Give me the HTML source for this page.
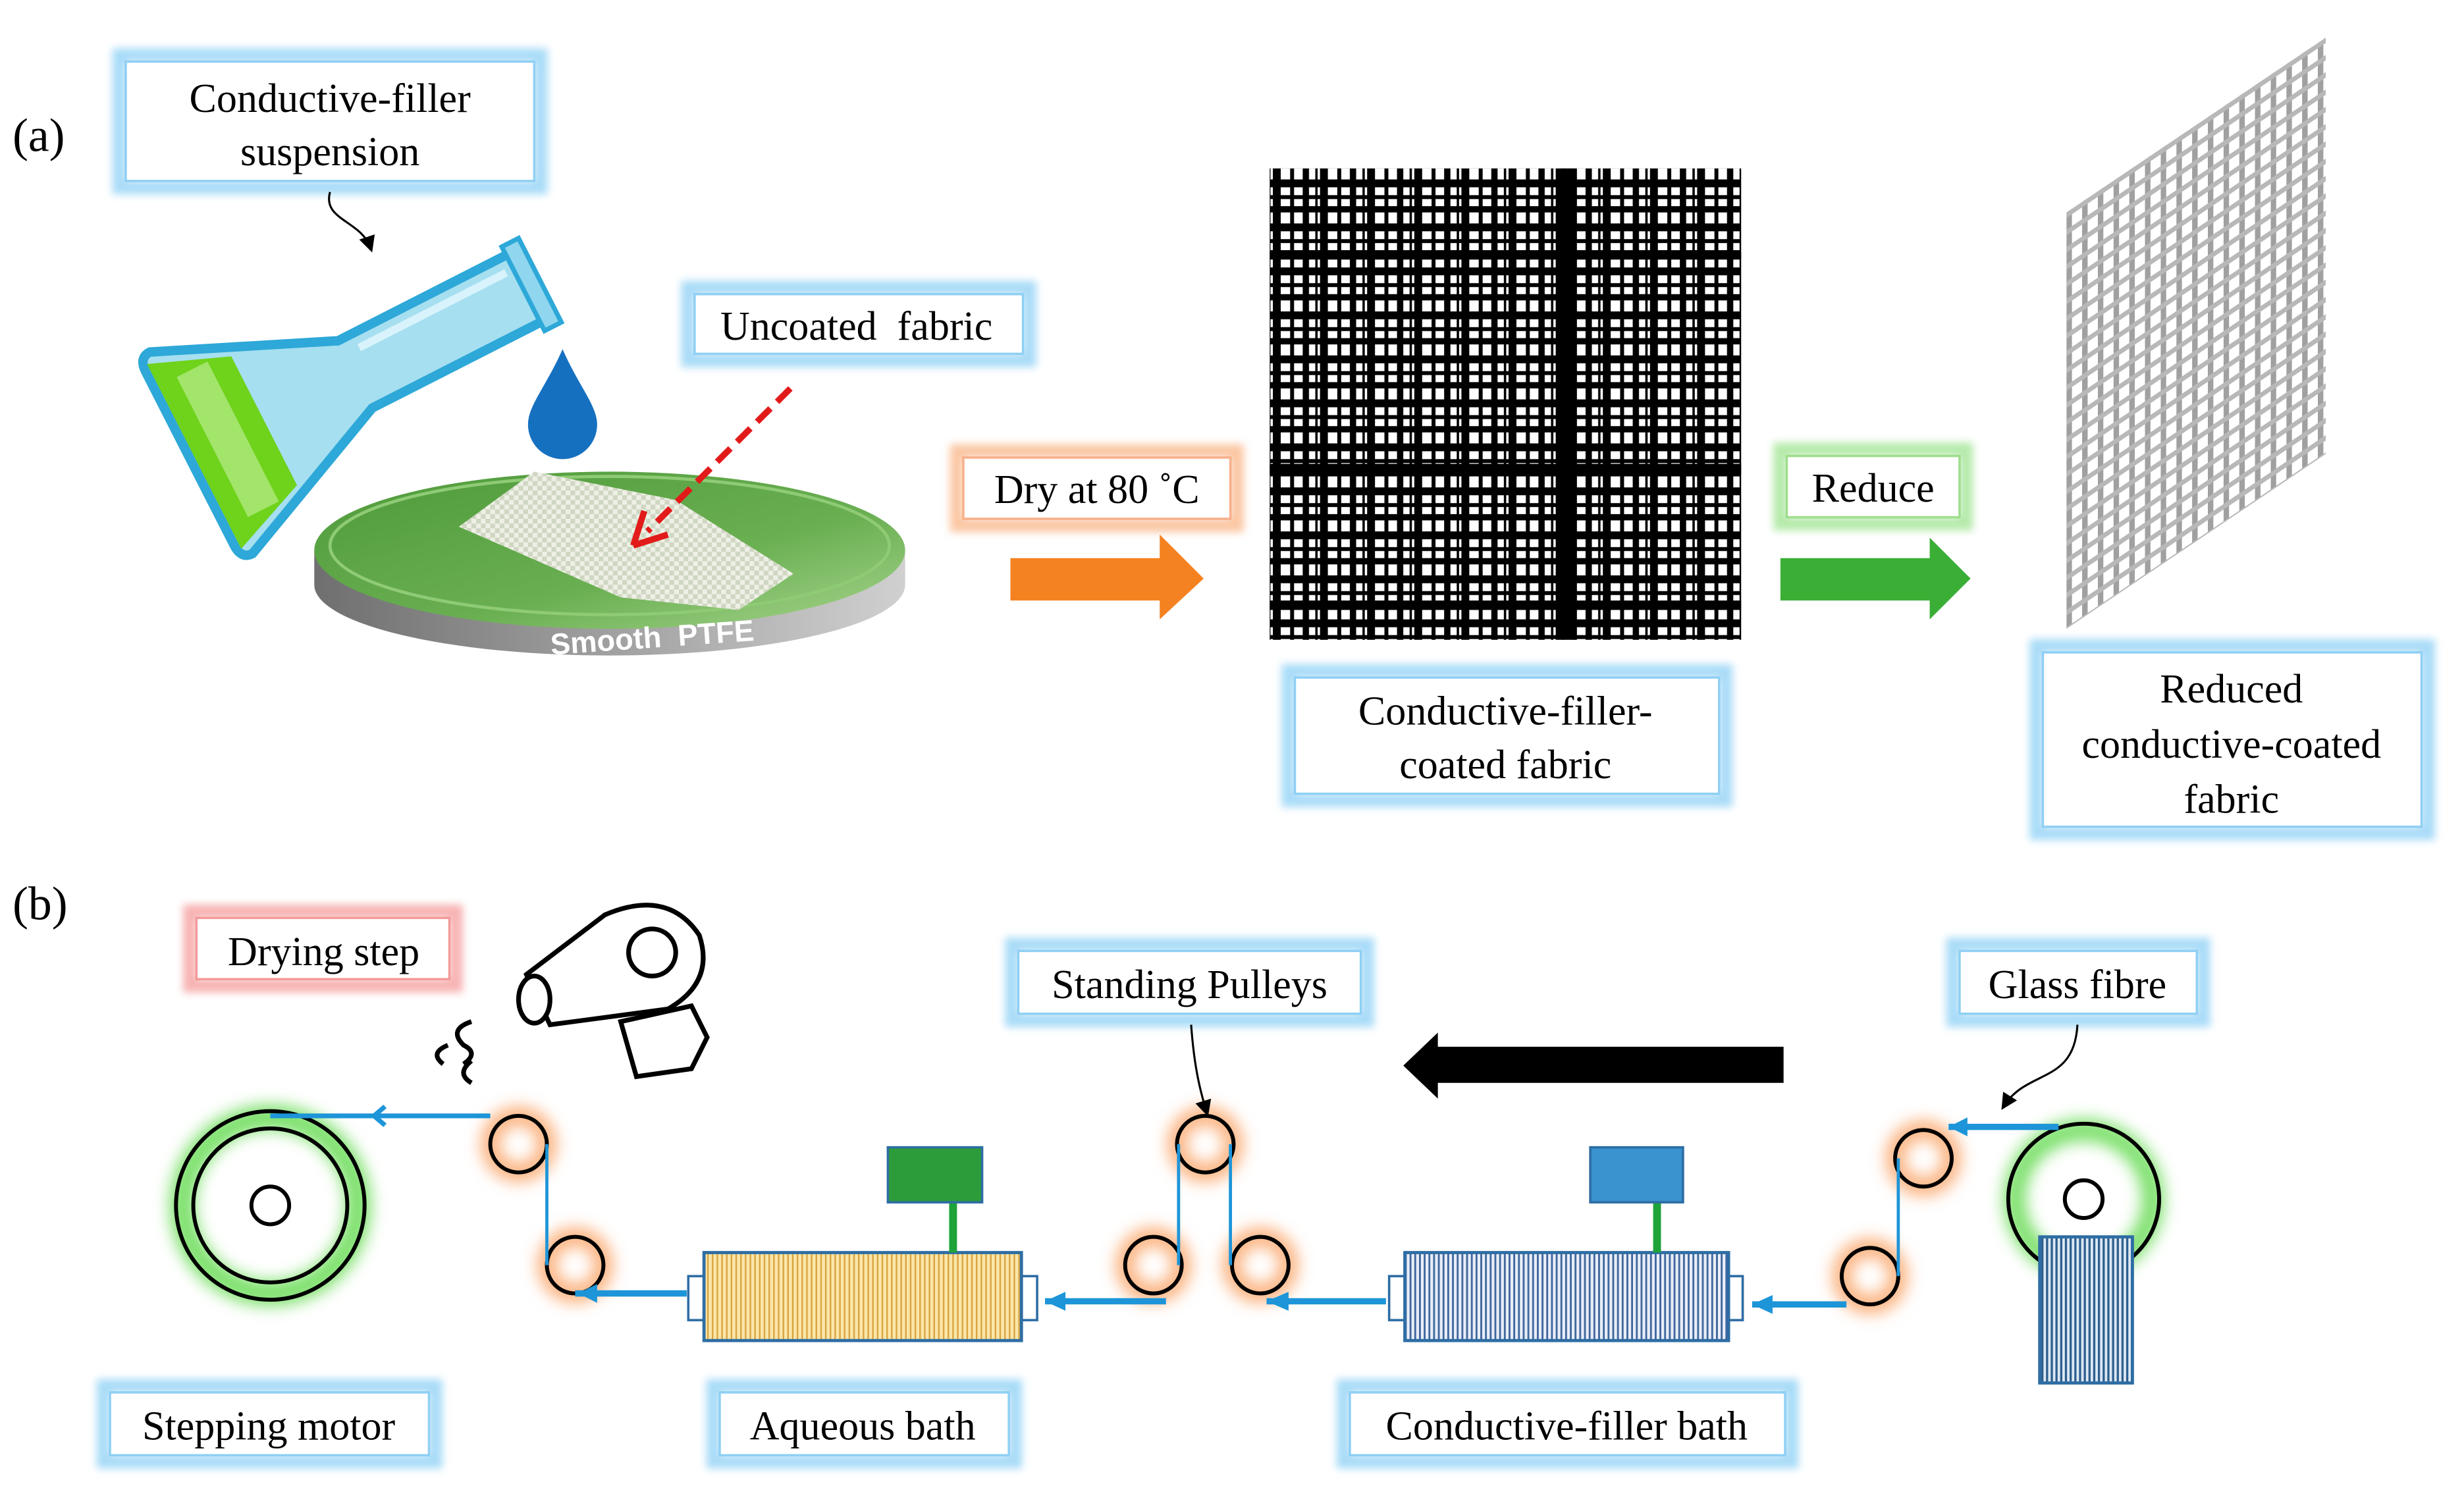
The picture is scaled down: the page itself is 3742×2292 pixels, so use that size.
<!DOCTYPE html>
<html><head><meta charset="utf-8"><style>
html,body{margin:0;padding:0;background:#fff;}
svg{display:block;}
</style></head><body>
<svg width="3742" height="2292" viewBox="0 0 1568 960" xmlns="http://www.w3.org/2000/svg" font-family="'Liberation Serif', serif">
<defs>
<filter id="bl" x="-20%" y="-20%" width="140%" height="140%"><feGaussianBlur stdDeviation="2.5"/></filter>
<filter id="bl6" x="-50%" y="-50%" width="200%" height="200%"><feGaussianBlur stdDeviation="5"/></filter>
<pattern id="fab" width="30" height="28" patternUnits="userSpaceOnUse">
<rect width="30" height="28" fill="#fff"/>
<rect x="0" y="0" width="5" height="28" fill="#000"/>
<rect x="11" y="0" width="2.5" height="28" fill="#000"/>
<rect x="19" y="0" width="4" height="28" fill="#000"/>
<rect x="27" y="0" width="1.5" height="28" fill="#000"/>
<rect x="0" y="2" width="30" height="5" fill="#000"/>
<rect x="0" y="12" width="30" height="2.5" fill="#000"/>
<rect x="0" y="19" width="30" height="4" fill="#000"/>
</pattern>
<pattern id="mesh" width="10" height="11" patternUnits="userSpaceOnUse">
<rect x="0" y="0" width="3.5" height="11" fill="#a0a0a0"/>
<rect x="0" y="0" width="10" height="3.5" fill="#b8b8b8"/>
</pattern>
<pattern id="yel" width="3" height="10" patternUnits="userSpaceOnUse">
<rect width="3" height="10" fill="#fbe6a8"/><rect width="1" height="10" fill="#d9a441"/>
</pattern>
<pattern id="blu" width="3" height="10" patternUnits="userSpaceOnUse">
<rect width="3" height="10" fill="#e8eef7"/><rect width="1.2" height="10" fill="#41679e"/>
</pattern>
<pattern id="blu2" width="3" height="10" patternUnits="userSpaceOnUse">
<rect width="3" height="10" fill="#dce8f3"/><rect width="1.4" height="10" fill="#2e5f8f"/>
</pattern>
<pattern id="fw" width="6" height="6" patternUnits="userSpaceOnUse">
<rect width="6" height="6" fill="#cfd6c2"/><rect width="3" height="3" fill="#eef0e6"/><rect x="3" y="3" width="3" height="3" fill="#eef0e6"/>
</pattern>
<linearGradient id="disk" x1="0" y1="0" x2="1" y2="1"><stop offset="0" stop-color="#4e9a3a"/><stop offset="0.6" stop-color="#6aaf52"/><stop offset="1" stop-color="#a8d68e"/></linearGradient>
<linearGradient id="side" x1="0" y1="0" x2="1" y2="0"><stop offset="0" stop-color="#6f6f6f"/><stop offset="0.5" stop-color="#a0a0a0"/><stop offset="1" stop-color="#d0d0d0"/></linearGradient>
<marker id="ah" markerWidth="8" markerHeight="8" refX="6" refY="4" orient="auto"><path d="M0,0 L8,4 L0,8 Z" fill="#000"/></marker>
</defs>

<!-- label boxes -->
<g fill="#fff">
<g stroke="#a9dcf8" stroke-width="9" filter="url(#bl)">
<rect x="76" y="35" width="268" height="84"/>
<rect x="438" y="183" width="217" height="46"/>
<rect x="820" y="427" width="278" height="82"/>
<rect x="1296" y="411" width="249" height="119"/>
<rect x="644" y="601" width="226" height="48"/>
<rect x="1243" y="601" width="159" height="48"/>
<rect x="66" y="882" width="211" height="48"/>
<rect x="454" y="882" width="192" height="48"/>
<rect x="855" y="882" width="285" height="48"/>
</g>
<rect x="609" y="287" width="178" height="47" stroke="#fbc7a4" stroke-width="9" filter="url(#bl)"/>
<rect x="1133" y="286" width="118" height="47" stroke="#b5eaaa" stroke-width="9" filter="url(#bl)"/>
<rect x="121" y="580" width="169" height="47" stroke="#f8b3b3" stroke-width="9" filter="url(#bl)"/>
</g>
<g fill="#fff" stroke="#8fd0f4" stroke-width="1.5">
<rect x="80" y="39" width="260" height="76"/>
<rect x="442" y="187" width="209" height="38"/>
<rect x="824" y="431" width="270" height="74"/>
<rect x="1300" y="415" width="241" height="111"/>
<rect x="648" y="605" width="218" height="40"/>
<rect x="1247" y="605" width="151" height="40"/>
<rect x="70" y="886" width="203" height="40"/>
<rect x="458" y="886" width="184" height="40"/>
<rect x="859" y="886" width="277" height="40"/>
<rect x="613" y="291" width="170" height="39" stroke="#f8b08a"/>
<rect x="1137" y="290" width="110" height="39" stroke="#9ede8d"/>
<rect x="125" y="584" width="161" height="39" stroke="#f49a9a"/>
</g>
<g font-size="26" text-anchor="middle" font-family="'Liberation Serif', serif" fill="#000">
<text x="210" y="71">Conductive-filler</text>
<text x="210" y="105">suspension</text>
<text x="545" y="216">Uncoated&#160; fabric</text>
<text x="698" y="320">Dry at 80 ˚C</text>
<text x="1192" y="319">Reduce</text>
<text x="958" y="461">Conductive-filler-</text>
<text x="958" y="495">coated fabric</text>
<text x="1420" y="447">Reduced</text>
<text x="1420" y="482">conductive-coated</text>
<text x="1420" y="517">fabric</text>
<text x="206" y="614">Drying step</text>
<text x="757" y="635">Standing Pulleys</text>
<text x="1322" y="635">Glass fibre</text>
<text x="171" y="916">Stepping motor</text>
<text x="549" y="916">Aqueous bath</text>
<text x="997" y="916">Conductive-filler bath</text>
<text x="8" y="96" font-size="30" text-anchor="start">(a)</text>
<text x="8" y="585" font-size="30" text-anchor="start">(b)</text>
</g>

<!-- callout -->
<path d="M210,122 C205,140 230,140 236,158" stroke="#000" stroke-width="1.3" fill="none" marker-end="url(#ah)"/>

<!-- disk -->
<path d="M200,350 L200,372 A188,45 0 0 0 576,372 L576,350 Z" fill="url(#side)"/>
<ellipse cx="388" cy="350" rx="188" ry="50" fill="url(#disk)"/>
<ellipse cx="388" cy="347" rx="178" ry="44" fill="none" stroke="#8fcb75" stroke-width="2"/>
<text x="415" y="412" font-family="'Liberation Sans', sans-serif" font-weight="bold" font-size="19" fill="#fff" text-anchor="middle" transform="rotate(-4 415 405)">Smooth&#160; PTFE</text>
<polygon points="292,335 340,300 430,318 505,365 470,388 395,380" fill="url(#fw)"/>
<!-- red dashed -->
<line x1="503" y1="247" x2="412" y2="338" stroke="#e31a1a" stroke-width="4" stroke-dasharray="12,6"/>
<path d="M403,347 L410,325 M403,347 L425,340" stroke="#e31a1a" stroke-width="4" fill="none"/>

<!-- flask -->
<g transform="translate(128,288) rotate(-27)">
<path d="M0,-72 L110,-24 L232,-24 L232,24 L110,24 L0,72 Q-8,72 -8,62 L-8,-62 Q-8,-72 0,-72 Z" fill="#a6dff0" stroke="#2da8d8" stroke-width="6"/>
<path d="M-5,-66 L45,-46 L45,46 L-5,66 Z" fill="#6fd21b"/>
<rect x="8" y="-50" width="22" height="100" fill="#b8ec8c" opacity="0.7"/>
<rect x="230" y="-30" width="12" height="60" fill="#8fd6ee" stroke="#2da8d8" stroke-width="3"/>
<line x1="120" y1="-14" x2="225" y2="-14" stroke="#d8f3fb" stroke-width="5"/>
</g>
<!-- drop -->
<path d="M358,222 C348,245 336,258 336,270 A22,22 0 0 0 380,270 C380,258 368,245 358,222 Z" fill="#1670c0"/>

<!-- orange arrow -->
<polygon points="643,355 738,355 738,340 766,368 738,394 738,382 643,382" fill="#f58220"/>
<!-- green arrow -->
<polygon points="1133,355 1228,355 1228,342 1254,368 1228,394 1228,382 1133,382" fill="#3aae35"/>

<!-- black fabric -->
<rect x="808" y="107" width="300" height="300" fill="url(#fab)"/>
<rect x="994" y="107" width="8" height="300" fill="#000"/>
<rect x="808" y="295" width="300" height="7" fill="#000"/>
<rect x="808" y="382" width="300" height="6" fill="#000"/>
<rect x="808" y="160" width="300" height="5" fill="#000"/>

<!-- mesh -->
<g transform="translate(1315,135) skewY(-34)">
<rect x="0" y="0" width="165" height="265" fill="url(#mesh)"/>
</g>

<!-- hair dryer -->
<g stroke="#000" stroke-width="3" fill="#fff">
<path d="M395,650 L405,685 L440,680 L450,660 L440,640 Z"/>
<path d="M335,620 L385,582 Q425,565 445,595 Q455,625 425,642 L350,652 Z"/>
<ellipse cx="340" cy="636" rx="10" ry="15"/>
<circle cx="415" cy="606" r="15"/>
<path d="M300,650 q-15,5 -5,15 q10,5 0,12 M285,665 q-12,5 -3,12 M300,675 q-10,8 0,14" fill="none"/>
</g>

<!-- big black arrow -->
<polygon points="1135,666 915,666 915,657 893,678 915,699 915,689 1135,689" fill="#000"/>

<!-- glows -->
<g filter="url(#bl6)" fill="none">
<circle cx="172" cy="767" r="56" stroke="#7be06a" stroke-width="16"/>
<circle cx="1326" cy="763" r="44" stroke="#7be06a" stroke-width="14"/>
<g stroke="#fbb07c" stroke-width="12">
<circle cx="330" cy="728" r="18"/><circle cx="366" cy="805" r="18"/>
<circle cx="734" cy="805" r="18"/><circle cx="767" cy="728" r="18"/>
<circle cx="802" cy="805" r="18"/><circle cx="1190" cy="812" r="18"/>
<circle cx="1224" cy="737" r="18"/>
</g>
</g>
<g fill="none" stroke="#000" stroke-width="2.5">
<circle cx="172" cy="767" r="60"/><circle cx="172" cy="767" r="49"/><circle cx="172" cy="767" r="12"/>
<circle cx="1326" cy="763" r="48"/><circle cx="1326" cy="763" r="12"/>
<circle cx="330" cy="728" r="18"/><circle cx="366" cy="805" r="18"/>
<circle cx="734" cy="805" r="18"/><circle cx="767" cy="728" r="18"/>
<circle cx="802" cy="805" r="18"/><circle cx="1190" cy="812" r="18"/>
<circle cx="1224" cy="737" r="18"/>
</g>

<!-- fibre path -->
<g stroke="#1d95d8" fill="none">
<line x1="172" y1="710" x2="312" y2="710" stroke-width="3"/>
<path d="M245,704 L238,710 L245,716" stroke-width="3"/>
<line x1="348" y1="728" x2="348" y2="805" stroke-width="2"/>
<line x1="366" y1="823" x2="437" y2="823" stroke-width="4"/>
<line x1="665" y1="828" x2="742" y2="828" stroke-width="4"/>
<line x1="750" y1="728" x2="750" y2="805" stroke-width="2"/>
<line x1="783" y1="728" x2="783" y2="805" stroke-width="2"/>
<line x1="806" y1="828" x2="882" y2="828" stroke-width="4"/>
<line x1="1115" y1="830" x2="1175" y2="830" stroke-width="4"/>
<line x1="1208" y1="737" x2="1208" y2="812" stroke-width="2"/>
<line x1="1240" y1="717" x2="1310" y2="717" stroke-width="4"/>
</g>
<g fill="#1d95d8">
<polygon points="380,817 368,823 380,829"/><polygon points="678,822 665,828 678,834"/>
<polygon points="820,822 806,828 820,834"/><polygon points="1128,824 1115,830 1128,836"/>
<polygon points="1252,711 1240,717 1252,723"/>
</g>

<!-- baths -->
<rect x="438" y="812" width="10" height="28" fill="#fff" stroke="#2e6da4" stroke-width="1.5"/>
<rect x="650" y="812" width="10" height="28" fill="#fff" stroke="#2e6da4" stroke-width="1.5"/>
<rect x="448" y="797" width="202" height="56" fill="url(#yel)" stroke="#2e6da4" stroke-width="2"/>
<rect x="604" y="765" width="5" height="32" fill="#1ea33a"/>
<rect x="565" y="730" width="60" height="35" fill="#2c9c3a" stroke="#2e6da4" stroke-width="1.5"/>
<rect x="884" y="812" width="10" height="28" fill="#fff" stroke="#2e6da4" stroke-width="1.5"/>
<rect x="1099" y="812" width="10" height="28" fill="#fff" stroke="#2e6da4" stroke-width="1.5"/>
<rect x="894" y="797" width="206" height="56" fill="url(#blu)" stroke="#2e6da4" stroke-width="2"/>
<rect x="1052" y="765" width="5" height="32" fill="#1ea33a"/>
<rect x="1012" y="730" width="59" height="35" fill="#3a92cf" stroke="#2e6da4" stroke-width="1.5"/>
<rect x="1298" y="787" width="59" height="93" fill="url(#blu2)" stroke="#2e6da4" stroke-width="2"/>

<!-- callouts b -->
<path d="M758,652 C760,680 764,695 768,708" stroke="#000" stroke-width="1.3" fill="none" marker-end="url(#ah)"/>
<path d="M1322,652 C1320,690 1290,680 1275,704" stroke="#000" stroke-width="1.3" fill="none" marker-end="url(#ah)"/>
</svg>
</body></html>
